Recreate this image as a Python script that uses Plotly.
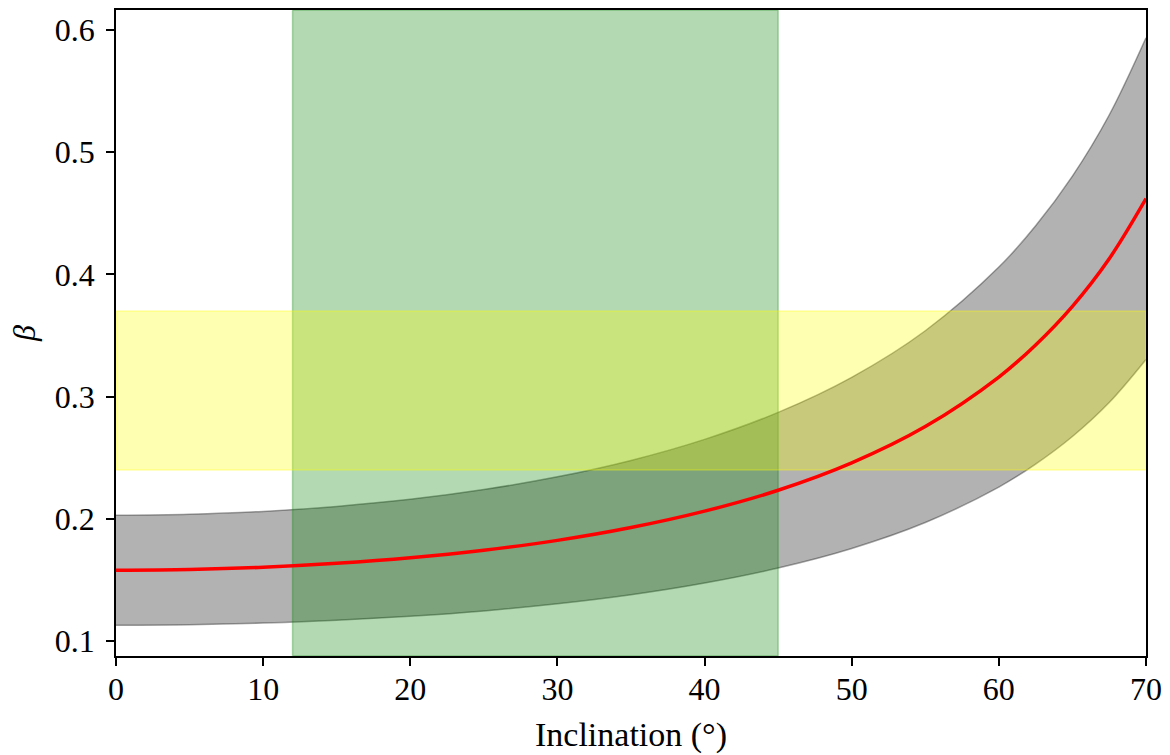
import plotly.graph_objects as go

# Inclination (degrees) and beta curves
inclination = [0, 5, 10, 15, 20, 25, 30, 35, 40, 45, 50, 55, 60, 62.5, 65, 67.5, 70]
beta_mid = [0.158, 0.1586, 0.1604, 0.1636, 0.1681, 0.1743, 0.1824, 0.1929, 0.2063,
            0.2234, 0.2458, 0.2755, 0.316, 0.3423, 0.3739, 0.4128, 0.462]
beta_hi = [0.203, 0.2038, 0.2061, 0.2102, 0.2160, 0.2240, 0.2344, 0.2478, 0.2650,
           0.2871, 0.3158, 0.3539, 0.406, 0.4398, 0.4804, 0.5304, 0.5936]
beta_lo = [0.113, 0.1134, 0.1147, 0.1170, 0.1203, 0.1247, 0.1305, 0.1379, 0.1475,
           0.1598, 0.1758, 0.1970, 0.226, 0.2448, 0.2674, 0.2952, 0.3304]

green_span_x = [12, 45]        # inclination range
yellow_span_y = [0.24, 0.37]   # beta range
x_range = [0, 70]
y_range = [0.0878, 0.6163]
x_ticks = [0, 10, 20, 30, 40, 50, 60, 70]
y_ticks = [0.1, 0.2, 0.3, 0.4, 0.5, 0.6]

FONT = "Liberation Serif"

fig = go.Figure()
# gray uncertainty band
fig.add_trace(go.Scatter(x=inclination, y=beta_lo, mode="lines",
                         line=dict(color="rgba(0,0,0,0.35)", width=1.5, shape="spline"),
                         showlegend=False, hoverinfo="skip"))
fig.add_trace(go.Scatter(x=inclination, y=beta_hi, mode="lines", fill="tonexty",
                         fillcolor="rgba(0,0,0,0.3)",
                         line=dict(color="rgba(0,0,0,0.35)", width=1.5, shape="spline"),
                         showlegend=False, hoverinfo="skip"))
# green vertical span
gx0, gx1 = green_span_x
fig.add_trace(go.Scatter(x=[gx0, gx1, gx1, gx0, gx0],
                         y=[y_range[0], y_range[0], y_range[1], y_range[1], y_range[0]],
                         mode="lines", fill="toself", fillcolor="rgba(0,128,0,0.3)",
                         line=dict(color="rgba(0,128,0,0.3)", width=1.5),
                         showlegend=False, hoverinfo="skip"))
# yellow horizontal span
yy0, yy1 = yellow_span_y
fig.add_trace(go.Scatter(x=[x_range[0], x_range[1], x_range[1], x_range[0], x_range[0]],
                         y=[yy0, yy0, yy1, yy1, yy0],
                         mode="lines", fill="toself", fillcolor="rgba(255,255,0,0.3)",
                         line=dict(color="rgba(255,255,0,0.3)", width=1.5),
                         showlegend=False, hoverinfo="skip"))
# red central curve
fig.add_trace(go.Scatter(x=inclination, y=beta_mid, mode="lines",
                         line=dict(color="#ff0000", width=3.5, shape="spline"),
                         showlegend=False))

axis_common = dict(showgrid=False, zeroline=False, showline=True, linecolor="black",
                   linewidth=1.5, mirror=True, ticks="outside", ticklen=8, tickwidth=1.5,
                   tickcolor="black", tickfont=dict(family=FONT, size=32, color="black"))

fig.update_xaxes(range=x_range, tickvals=x_ticks, ticklabelstandoff=-4,
                 title=dict(text="Inclination (°)", font=dict(family=FONT, size=34, color="black"),
                            standoff=16),
                 **axis_common)
fig.update_yaxes(range=y_range, tickvals=y_ticks, ticktext=[f"{v:.1f}" for v in y_ticks],
                 ticklabelstandoff=5,
                 title=dict(text="<i>β</i>", font=dict(family=FONT, size=32, color="black"),
                            standoff=10),
                 **axis_common)

fig.update_layout(width=1170, height=755, plot_bgcolor="white", paper_bgcolor="white",
                  margin=dict(l=116, r=24, t=8, b=99), showlegend=False)

fig.write_html("out.html", config={"displayModeBar": False},
               post_script="document.body.style.margin='0';")
